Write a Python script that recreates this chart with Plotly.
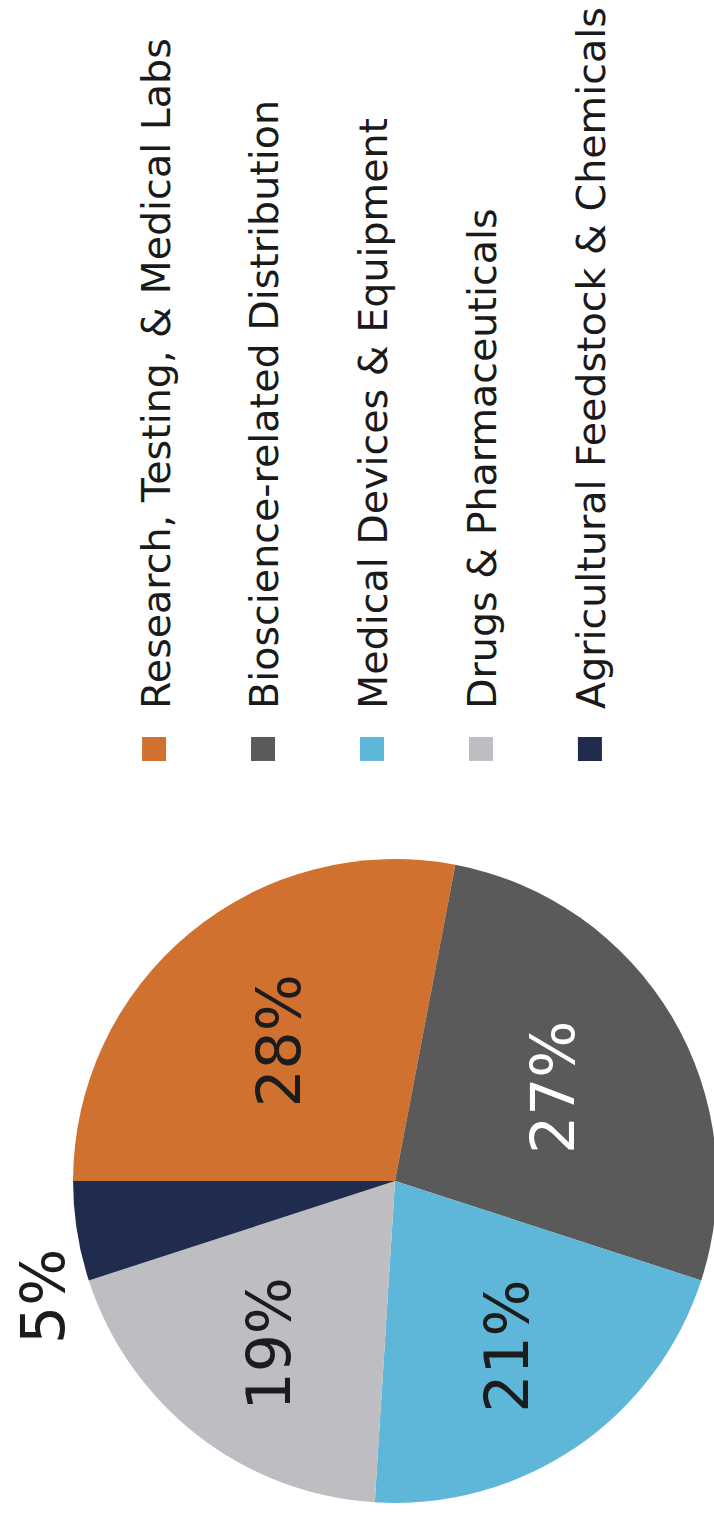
import plotly.graph_objects as go

# Sector shares (percent of total)
categories = [
    "Research, Testing, & Medical Labs",
    "Bioscience-related Distribution",
    "Medical Devices & Equipment",
    "Drugs & Pharmaceuticals",
    "Agricultural Feedstock & Chemicals",
]
shares = [28, 27, 21, 19, 5]

slice_colors = ["#D0712F", "#5A5A5A", "#5EB7D8", "#BEBEC2", "#1F2C4E"]
label_colors = ["#1c1c1c", "#ffffff", "#1c1c1c", "#1c1c1c", "#1c1c1c"]
label_positions = ["inside", "inside", "inside", "inside", "outside"]

FONT = "DejaVu Sans"

# The figure is laid out landscape at half size; the page turns it a quarter
# turn counter-clockwise and doubles it to fill the portrait window.
W, H = 757, 365

# Legend entries get an empty second line so the rows are spaced apart.
legend_labels = [c + "<br> " for c in categories]

fig = go.Figure(
    go.Pie(
        labels=legend_labels,
        values=shares,
        sort=False,
        direction="clockwise",
        rotation=0,
        marker=dict(colors=slice_colors, line=dict(width=0)),
        texttemplate="%{percent:.0%}",
        textposition=label_positions,
        insidetextorientation="horizontal",
        textfont=dict(family=FONT, size=30, color=label_colors),
        outsidetextfont=dict(family=FONT, size=30, color="#1c1c1c"),
        domain=dict(x=[0.0073, 0.4326], y=[0.0178, 0.9]),
        hoverinfo="skip",
    )
)

fig.update_layout(
    width=W,
    height=H,
    margin=dict(l=0, r=0, t=0, b=0, autoexpand=False),
    paper_bgcolor="white",
    plot_bgcolor="white",
    showlegend=True,
    legend=dict(
        x=0.4789,
        y=0.842,
        xanchor="left",
        yanchor="top",
        valign="top",
        bgcolor="rgba(0,0,0,0)",
        font=dict(family=FONT, size=19.8, color="#1a1a1a"),
    ),
)

rotate_js = """
var gd = document.getElementById('{plot_id}');
document.documentElement.style.margin = '0';
document.body.style.margin = '0';
document.body.style.overflow = 'hidden';
gd.style.position = 'absolute';
gd.style.left = '0px';
gd.style.top = '0px';
gd.style.transformOrigin = '0 0';
gd.style.transform = 'rotate(-90deg) scale(2) translateX(-100%)';
"""

fig.write_html("out.html", post_script=rotate_js, config=dict(displayModeBar=False))
